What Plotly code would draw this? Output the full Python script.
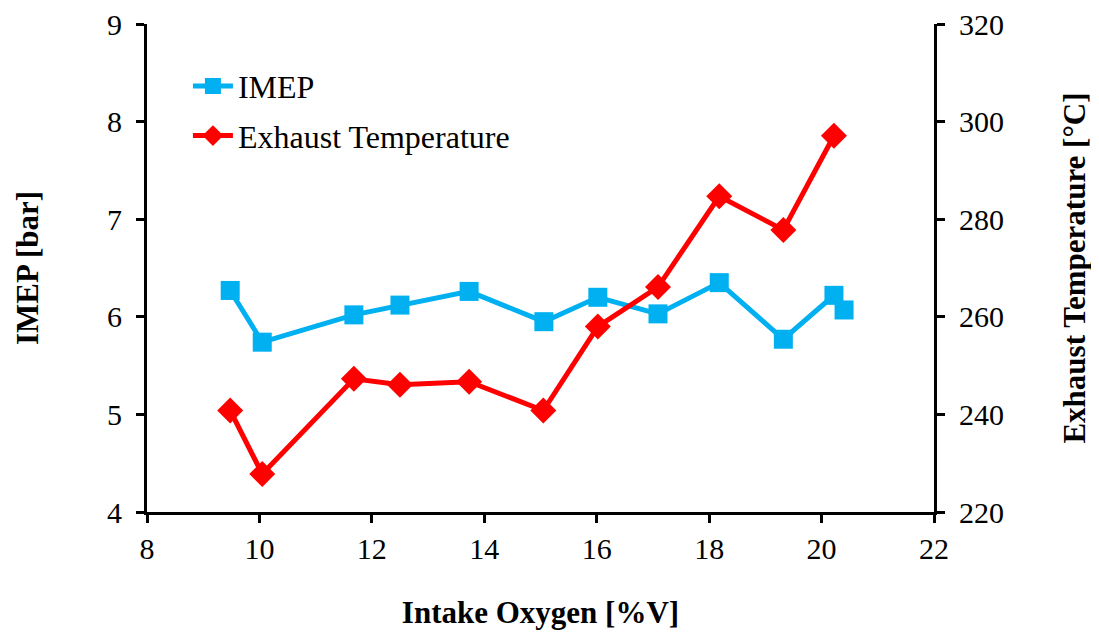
import plotly.graph_objects as go

oxygen = [9.48, 10.05, 11.68, 12.50, 13.73, 15.06, 16.02, 17.09, 18.18, 19.32, 20.22, 20.40]
imep = [6.27, 5.74, 6.02, 6.12, 6.26, 5.95, 6.20, 6.03, 6.35, 5.77, 6.22, 6.07]

oxygen_t = [9.48, 10.05, 11.68, 12.50, 13.73, 15.05, 16.02, 17.09, 18.18, 19.32, 20.22]
exh_temp = [240.8, 227.8, 247.3, 246.1, 246.7, 240.8, 258.0, 266.1, 284.7, 277.8, 297.1]

x_ticks = [8, 10, 12, 14, 16, 18, 20, 22]
imep_ticks = [4, 5, 6, 7, 8, 9]
temp_ticks = [220, 240, 260, 280, 300, 320]

BLUE = "#00B0F0"
RED = "#FF0000"
FONT = "Liberation Serif"

fig = go.Figure()
fig.add_trace(go.Scatter(
    x=oxygen, y=imep, name="IMEP", mode="lines+markers", legendgroup="a",
    line=dict(color=BLUE, width=5),
    marker=dict(symbol="square", size=19, color=BLUE),
))
fig.add_trace(go.Scatter(
    x=oxygen_t, y=exh_temp, name="Exhaust Temperature", mode="lines+markers",
    legendgroup="b", yaxis="y2",
    line=dict(color=RED, width=5),
    marker=dict(symbol="diamond", size=20, color=RED),
))

axis_common = dict(
    showgrid=False, zeroline=False, showline=True, linecolor="black", linewidth=3,
    ticks="outside", ticklen=8, tickwidth=3, tickcolor="black",
    tickfont=dict(family=FONT, size=30, color="black"),
    automargin=False, ticklabeloverflow="allow",
)
title_font = dict(family=FONT, size=31, color="black")

fig.update_layout(
    width=1099, height=635,
    margin=dict(l=139, r=173, t=16, b=131),
    paper_bgcolor="white", plot_bgcolor="white",
    font=dict(family=FONT, color="black"),
    showlegend=True,
    legend=dict(
        x=0.052, y=0.929, xanchor="left", yanchor="top",
        font=dict(family=FONT, size=32, color="black"),
        bgcolor="rgba(0,0,0,0)", traceorder="grouped", tracegroupgap=5, itemwidth=40,
    ),
    xaxis=dict(
        range=[8, 22], tickvals=x_ticks, ticklabelstandoff=0,
        title=dict(text="<b>Intake Oxygen [%V]</b>", font=title_font, standoff=38),
        **axis_common,
    ),
    yaxis=dict(
        range=[4, 9], tickvals=imep_ticks, ticklabelstandoff=8,
        title=dict(text="<b>IMEP [bar]</b>", font=title_font, standoff=60),
        **axis_common,
    ),
    yaxis2=dict(
        range=[220, 320], tickvals=temp_ticks, ticklabelstandoff=8,
        overlaying="y", side="right",
        title=dict(text="<b>Exhaust Temperature [°C]</b>", font=title_font, standoff=61),
        **axis_common,
    ),
)

fig.write_html("out.html")
